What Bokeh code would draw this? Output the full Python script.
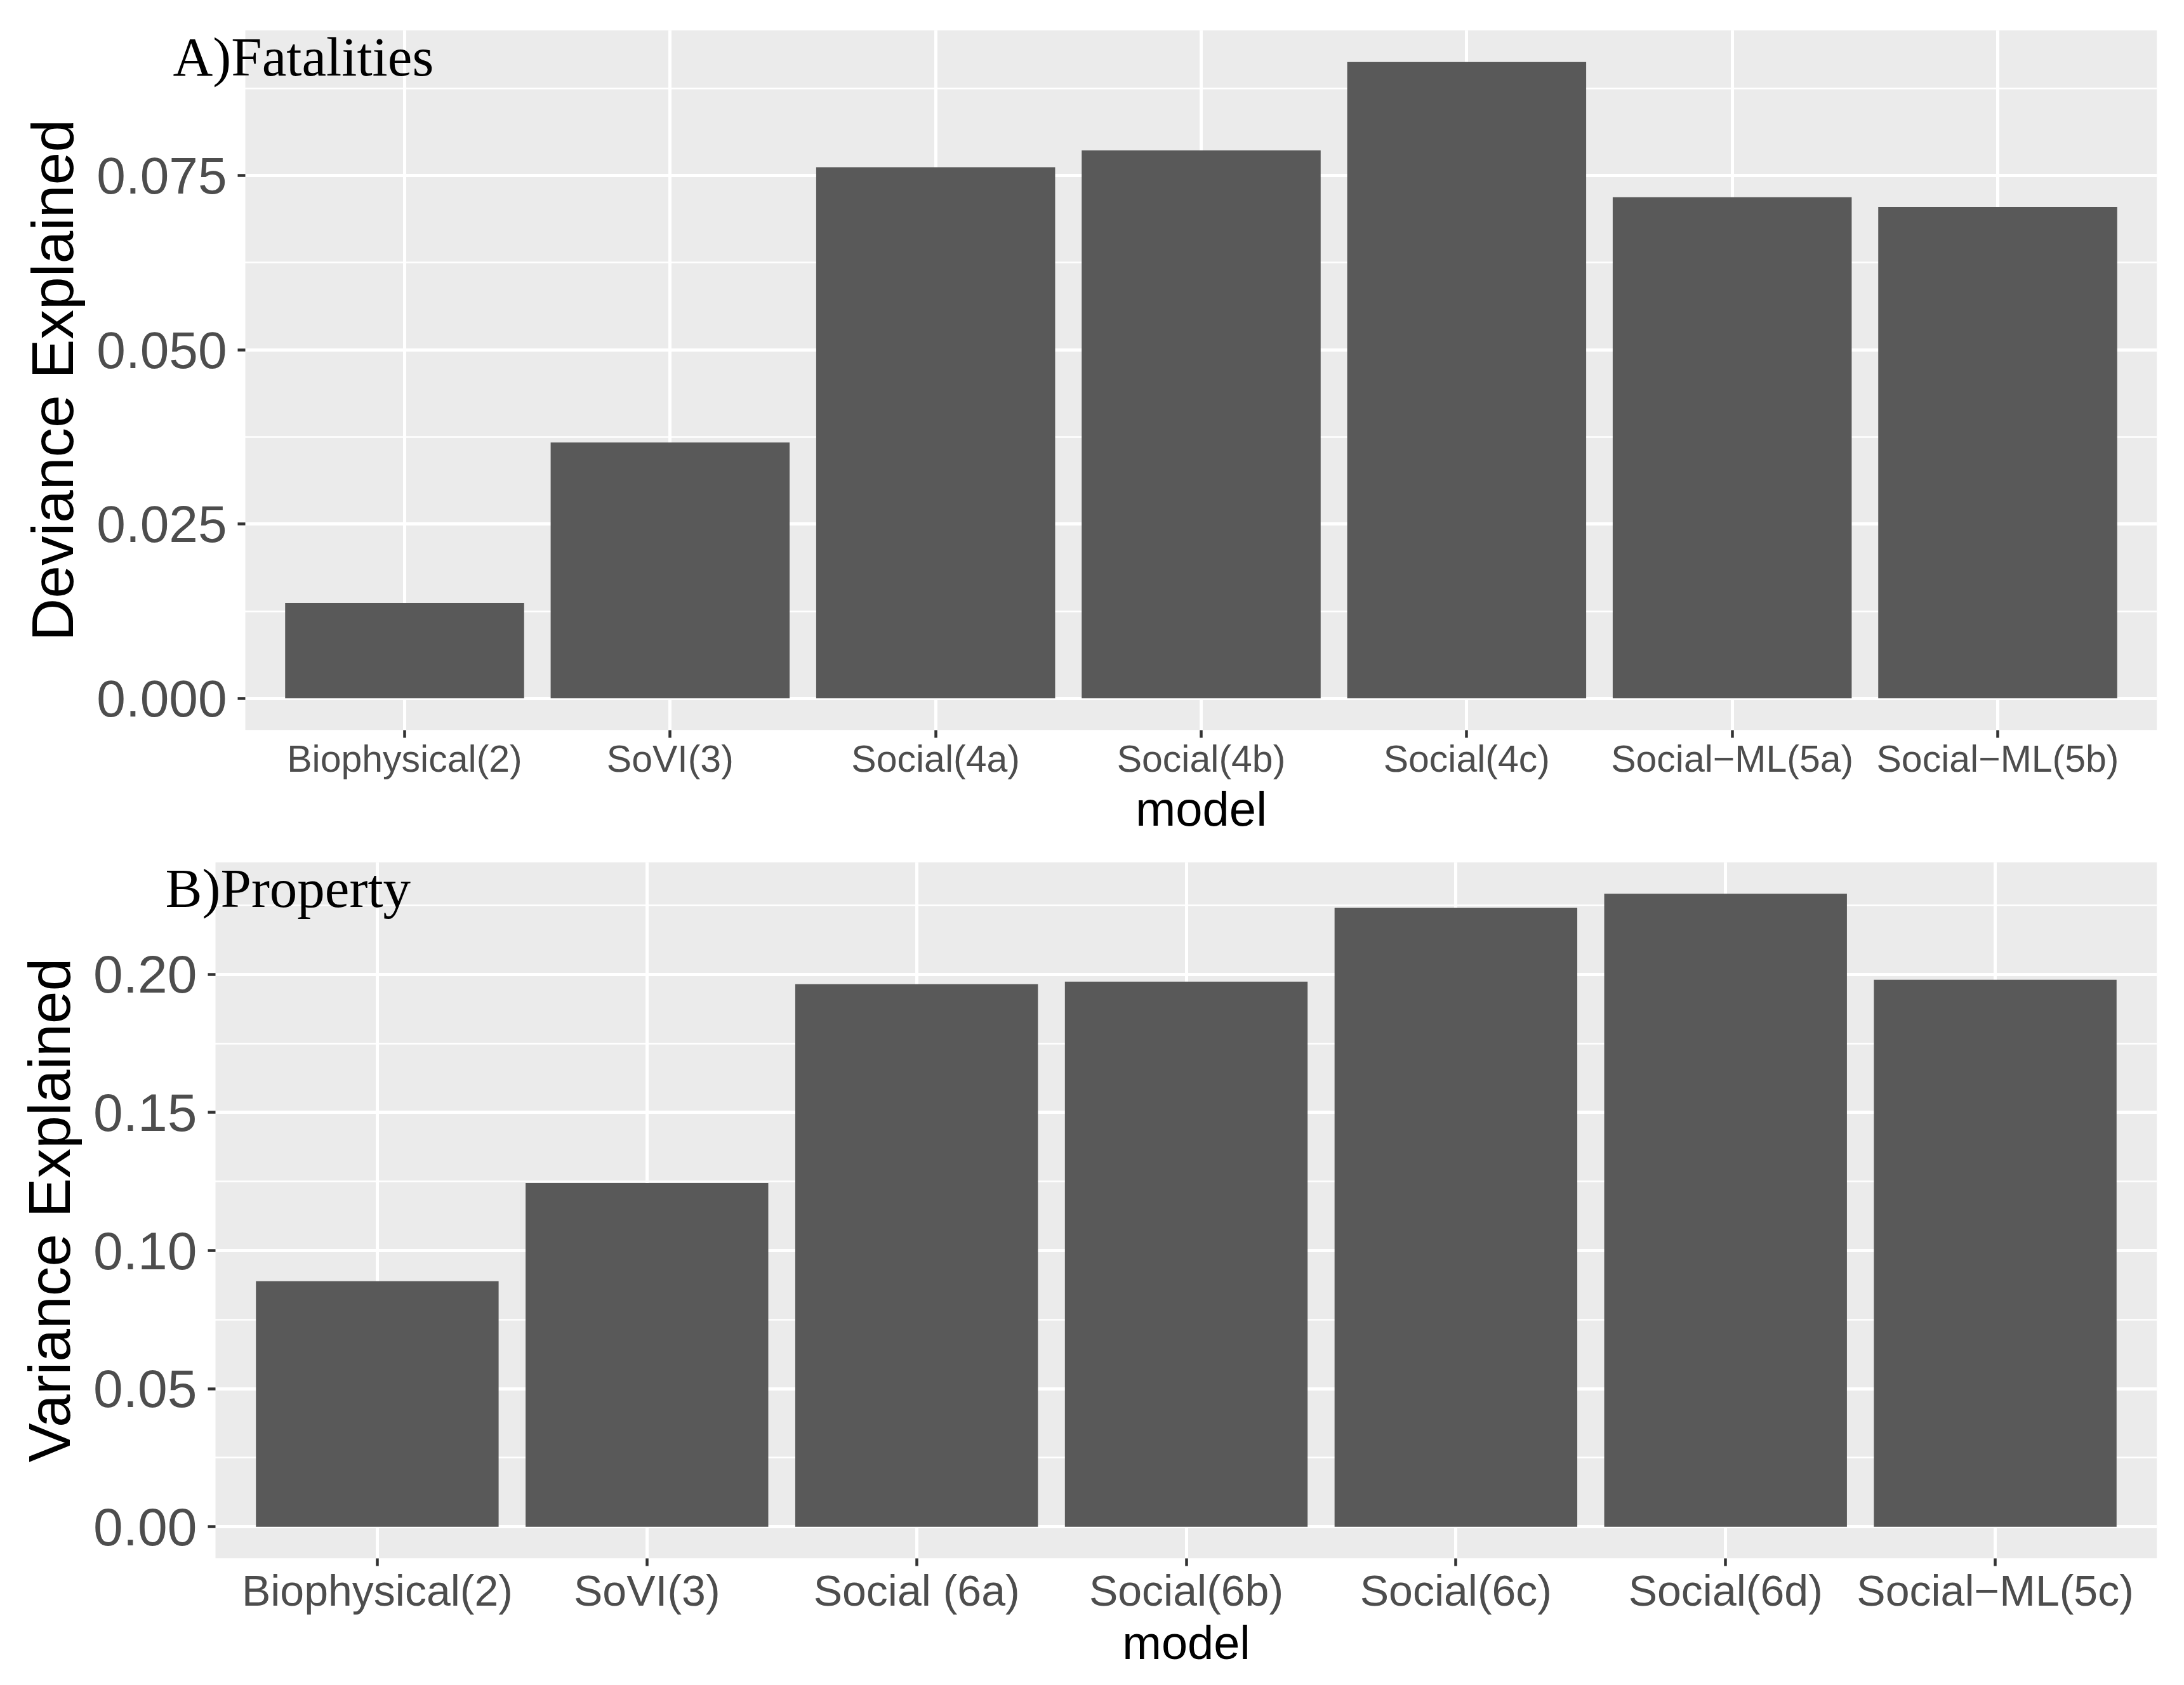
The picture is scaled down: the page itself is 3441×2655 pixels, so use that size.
from bokeh.plotting import figure
from bokeh.models import (Range1d, FixedTicker, SingleIntervalTicker, NumeralTickFormatter,
                          Label, Title)
from bokeh.embed import file_html
from bokeh.resources import INLINE

# ---- data ----
models_a = ["Biophysical(2)", "SoVI(3)", "Social(4a)", "Social(4b)", "Social(4c)",
            "Social\u2212ML(5a)", "Social\u2212ML(5b)"]
deviance_a = [0.0137, 0.0367, 0.0762, 0.0786, 0.0913, 0.0719, 0.0705]
title_a = "A)Fatalities"
ylabel_a = "Deviance Explained"

models_b = ["Biophysical(2)", "SoVI(3)", "Social (6a)", "Social(6b)", "Social(6c)",
            "Social(6d)", "Social\u2212ML(5c)"]
variance_b = [0.0889, 0.1245, 0.1965, 0.1974, 0.2241, 0.2292, 0.1981]
title_b = "B)Property"
ylabel_b = "Variance Explained"

xlabel = "model"

BAR = "#595959"
PANEL_BG = "#EBEBEB"
TICK_COL = "#333333"
LAB_COL = "#4D4D4D"
SANS = "Liberation Sans"
SERIF = "Liberation Serif"
TICK_LEN = 12
LABEL_GAP = 13
MODEL_EM = 2.723   # advance width of "model" in Liberation Sans, in em


def make_panel(cats, vals, ylabel, title, interval, fmt, panel_w, gap, fh,
               bl, br, bt, bb, ytick_fs, xtick_fs, ytitle_fs, xtitle_px, title_dy):
    """The frame is widened by `gap` px on the left so that the panel tag can
    start left of the grey panel (annotations are clipped to the frame)."""
    n = len(cats)
    xs = list(range(1, n + 1))
    vmax = max(vals)
    vmin = min(0.0, min(vals))
    span = vmax - vmin
    y0, y1 = vmin - 0.05 * span, vmax + 0.05 * span
    px0, x1 = 0.4, n + 0.6            # grey panel extent (ggplot discrete expansion)
    px_per_unit = panel_w / (x1 - px0)
    x0 = px0 - gap / px_per_unit      # frame starts `gap` px left of the panel

    p = figure(frame_width=panel_w + gap, frame_height=fh, output_backend="svg",
               toolbar_location=None,
               x_range=Range1d(x0, x1), y_range=Range1d(y0, y1),
               min_border_left=bl, min_border_right=br, min_border_top=bt, min_border_bottom=bb)
    p.background_fill_color = "white"
    p.border_fill_color = "white"
    p.outline_line_color = None

    # grey panel background
    p.quad(left=[px0], right=[x1], bottom=[y0], top=[y1], fill_color=PANEL_BG,
           line_color=None, level="image")

    p.vbar(x=xs, top=vals, bottom=0, width=0.9, fill_color=BAR, line_color=None)

    # axes
    p.xaxis.ticker = FixedTicker(ticks=xs)
    p.xaxis.major_label_overrides = {x: c for x, c in zip(xs, cats)}
    p.yaxis.ticker = SingleIntervalTicker(interval=interval, num_minor_ticks=2)
    p.yaxis.formatter = NumeralTickFormatter(format=fmt)

    for ax in (p.xaxis[0], p.yaxis[0]):
        ax.axis_line_color = None
        ax.major_tick_line_color = TICK_COL
        ax.major_tick_line_width = 4.5
        ax.minor_tick_line_color = None
        ax.major_label_text_color = LAB_COL
        ax.major_label_text_font = SANS
        ax.axis_label_text_font = SANS
        ax.axis_label_text_font_style = "normal"
        ax.axis_label_text_color = "black"

    p.xaxis.major_tick_in = 0
    p.xaxis.major_tick_out = TICK_LEN
    p.xaxis.major_label_text_font_size = xtick_fs
    p.xaxis.major_label_standoff = 0

    # x-axis title, centred under the grey panel (not under the widened frame)
    p.title = Title(text=xlabel, align="left", vertical_align="top",
                    offset=gap + panel_w / 2 - MODEL_EM * xtitle_px / 2, standoff=0,
                    text_font=SANS, text_font_size=f"{xtitle_px}px",
                    text_font_style="normal", text_color="black")
    p.title_location = "below"

    # y axis sits at the frame edge; move its ticks/labels to the grey panel edge
    p.yaxis.major_tick_in = gap
    p.yaxis.major_tick_out = -(gap - TICK_LEN)
    p.yaxis.major_label_text_font_size = ytick_fs
    p.yaxis.major_label_standoff = -(gap - TICK_LEN - LABEL_GAP)
    p.yaxis.axis_label = ylabel
    p.yaxis.axis_label_text_font_size = ytitle_fs
    p.yaxis.axis_label_standoff = 14

    # grid
    p.xgrid.grid_line_color = "white"
    p.xgrid.grid_line_width = 5
    p.ygrid.grid_line_color = "white"
    p.ygrid.grid_line_width = 5
    p.ygrid.minor_grid_line_color = "white"
    p.ygrid.minor_grid_line_width = 2.7

    # panel tag near the frame's top-left corner (screen units, frame-relative)
    lab = Label(x=10, y=fh - title_dy, x_units="screen", y_units="screen",
                text=title, text_font=SERIF, text_font_size="87px", text_color="black",
                text_align="left", text_baseline="alphabetic")
    p.add_layout(lab)
    return p


top = make_panel(models_a, deviance_a, ylabel_a, title_a, 0.025, "0.000",
                 panel_w=3012, gap=124, fh=1103, bl=262, br=35, bt=47, bb=160,
                 ytick_fs="82px", xtick_fs="59px", ytitle_fs="93px", xtitle_px=76,
                 title_dy=42)
bottom = make_panel(models_b, variance_b, ylabel_b, title_b, 0.05, "0.00",
                    panel_w=3059, gap=89, fh=1097, bl=250, br=35, bt=40, bb=160,
                    ytick_fs="84px", xtick_fs="68px", ytitle_fs="93px", xtitle_px=74,
                    title_dy=41)

open("out.html", "w").write(file_html([top, bottom], INLINE))
